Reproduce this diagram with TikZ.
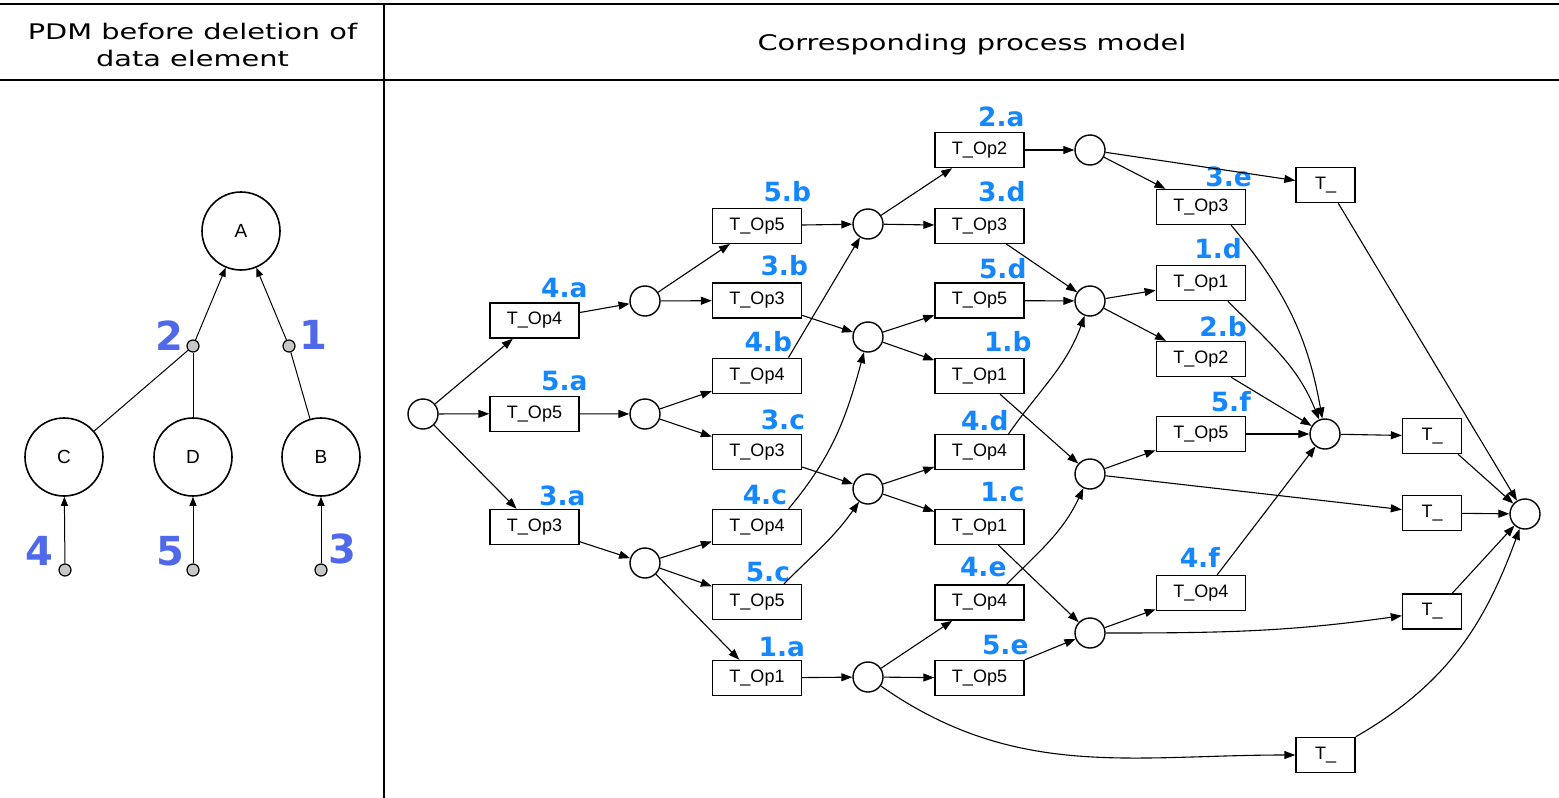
\documentclass[tikz,border=0pt]{standalone}
\usepackage{fontspec}
\setmainfont{Liberation Sans}
\newfontfamily\vfont{DejaVu Sans}
\usetikzlibrary{arrows.meta}
\definecolor{lblblue}{RGB}{20,135,255}
\definecolor{numblue}{RGB}{80,105,235}
\newcommand{\wide}[1]{\scalebox{1.34}[1]{#1}}

\begin{document}
\begin{tikzpicture}[
    x=1pt, y=1pt,
    place/.style={circle, draw, line width=1.4pt, minimum size=30pt, inner sep=0pt},
    trans/.style={rectangle, draw, line width=1.4pt, minimum width=89pt, minimum height=35pt,
        inner sep=0pt, font=\fontsize{18}{18}\selectfont},
    silent/.style={trans, minimum width=59pt},
    lbl/.style={anchor=south east, inner sep=0pt, text=lblblue,
        font=\vfont\bfseries\fontsize{26.5}{26.5}\selectfont},
    arc/.style={-{Triangle[length=11pt,width=8pt]}, line width=1.1pt},
    dnode/.style={circle, draw, line width=1.6pt, minimum size=78pt, inner sep=0pt,
        font=\fontsize{19}{19}\selectfont},
    dot/.style={circle, draw, fill=black!22, line width=1.2pt, minimum size=12pt, inner sep=0pt},
    num/.style={inner sep=0pt, text=numblue, font=\vfont\bfseries\fontsize{40}{40}\selectfont},
    link/.style={line width=1pt},
    dep/.style={link, -{Triangle[length=9pt,width=7pt]}}
]
\useasboundingbox (0,0) rectangle (1559,-798);

% table
\draw[line width=2.2pt] (0,-4) -- (1559,-4);
\draw[line width=2.2pt] (0,-80) -- (1559,-80);
\draw[line width=2pt] (384,-4) -- (384,-798);
\node[align=center, inner sep=0pt, font=\vfont\fontsize{21.5}{26.7}\selectfont] (hpdm) at (192.5,-45)
    {\wide{PDM before deletion of}\\\wide{data element}};
\node[anchor=base, inner sep=0pt, font=\vfont\fontsize{21.5}{26.7}\selectfont] (hmodel) at (972,-50)
    {\wide{Corresponding process model}};

% PDM
\node[dnode] (nA) at (241,-231) {A};
\node[dnode] (nC) at (64,-457) {C};
\node[dnode] (nD) at (193,-457) {D};
\node[dnode] (nB) at (321,-457) {B};
\node[dot] (o2) at (193,-346) {};
\node[dot] (o1) at (289,-346) {};
\node[dot] (o4) at (65,-570) {};
\node[dot] (o5) at (193,-570) {};
\node[dot] (o3) at (321,-570) {};

\draw[link] (nC) -- (o2);
\draw[link] (nD) -- (o2);
\draw[dep] (o2) -- (nA);
\draw[link] (nB) -- (o1);
\draw[dep] (o1) -- (nA);
\draw[dep] (o4) -- (nC);
\draw[dep] (o5) -- (nD);
\draw[dep] (o3) -- (nB);

\node[num, anchor=base east] at ([xshift=-3pt,yshift=-4pt]o2.west) {2};
\node[num, anchor=base west] at ([xshift=4pt,yshift=-3pt]o1.east) {1};
\node[num, anchor=base east] at ([xshift=-5pt,yshift=5pt]o4.west) {4};
\node[num, anchor=base east] at ([xshift=-2pt,yshift=5pt]o5.west) {5};
\node[num, anchor=base west] at ([xshift=1pt,yshift=7pt]o3.east) {3};

% process model
\node[place] (p0) at (423,-414) {};
\node[trans] (t4a) at (534.5,-320.5) {T\_Op4};
\node[trans] (t5a) at (534.5,-413.7) {T\_Op5};
\node[trans] (t3a) at (534.5,-527) {T\_Op3};
\node[place] (pa1) at (645,-301) {};
\node[place] (pa2) at (645,-414) {};
\node[place] (pa3) at (645,-563) {};
\node[trans] (t5b) at (757,-225.7) {T\_Op5};
\node[trans] (t3b) at (757,-300.5) {T\_Op3};
\node[trans] (t4b) at (757,-375.7) {T\_Op4};
\node[trans] (t3c) at (757,-452) {T\_Op3};
\node[trans] (t4c) at (757,-527) {T\_Op4};
\node[trans] (t5c) at (757,-602) {T\_Op5};
\node[trans] (t1a) at (757,-678) {T\_Op1};
\node[place] (pb1) at (868,-224) {};
\node[place] (pb2) at (868,-337) {};
\node[place] (pb3) at (868,-489) {};
\node[place] (pb4) at (868,-677) {};
\node[trans] (t2a) at (979.5,-150) {T\_Op2};
\node[trans] (t3d) at (979.5,-225.7) {T\_Op3};
\node[trans] (t5d) at (979.5,-300.5) {T\_Op5};
\node[trans] (t1b) at (979.5,-376) {T\_Op1};
\node[trans] (t4d) at (979.5,-452) {T\_Op4};
\node[trans] (t1c) at (979.5,-527) {T\_Op1};
\node[trans] (t4e) at (979.5,-602.5) {T\_Op4};
\node[trans] (t5e) at (979.5,-678) {T\_Op5};
\node[place] (pc1) at (1090,-150) {};
\node[place] (pc2) at (1090,-301) {};
\node[place] (pc3) at (1090,-474) {};
\node[place] (pc4) at (1090,-633) {};
\node[trans] (t3e) at (1200.8,-207) {T\_Op3};
\node[trans] (t1d) at (1200.8,-283) {T\_Op1};
\node[trans] (t2b) at (1200.8,-359) {T\_Op2};
\node[trans] (t5f) at (1200.8,-434) {T\_Op5};
\node[trans] (t4f) at (1200.8,-593) {T\_Op4};
\node[silent] (s1) at (1325.5,-185) {T\_};
\node[place] (pd) at (1325,-434) {};
\node[silent] (s5) at (1325.5,-755) {T\_};
\node[silent] (s2) at (1432,-436) {T\_};
\node[silent] (s3) at (1432,-513) {T\_};
\node[silent] (s4) at (1432,-611.5) {T\_};
\node[place] (pe) at (1525,-514) {};

% labels
\node[lbl] at ([xshift=8pt,yshift=4pt]t4a.north east) {4.a};
\node[lbl] at ([xshift=8pt,yshift=4pt]t5a.north east) {5.a};
\node[lbl] at ([xshift=6pt,yshift=3pt]t3a.north east) {3.a};
\node[lbl] at ([xshift=9pt,yshift=5pt]t5b.north east) {5.b};
\node[lbl] at ([xshift=6pt,yshift=6pt]t3b.north east) {3.b};
\node[lbl] at ([xshift=-10pt,yshift=5pt]t4b.north east) {4.b};
\node[lbl] at ([xshift=3pt,yshift=4pt]t3c.north east) {3.c};
\node[lbl] at ([xshift=-15pt,yshift=4pt]t4c.north east) {4.c};
\node[lbl] at ([xshift=-12pt,yshift=2pt]t5c.north east) {5.c};
\node[lbl] at ([xshift=3pt,yshift=3pt]t1a.north east) {1.a};
\node[lbl] at ([xshift=0pt,yshift=5pt]t2a.north east) {2.a};
\node[lbl] at ([xshift=1pt,yshift=5pt]t3d.north east) {3.d};
\node[lbl] at ([xshift=2pt,yshift=3pt]t5d.north east) {5.d};
\node[lbl] at ([xshift=7pt,yshift=6pt]t1b.north east) {1.b};
\node[lbl] at ([xshift=-16pt,yshift=3pt]t4d.north east) {4.d};
\node[lbl] at ([xshift=0pt,yshift=7pt]t1c.north east) {1.c};
\node[lbl] at ([xshift=-18pt,yshift=7pt]t4e.north east) {4.e};
\node[lbl] at ([xshift=4pt,yshift=5pt]t5e.north east) {5.e};
\node[lbl] at ([xshift=6pt,yshift=2pt]t3e.north east) {3.e};
\node[lbl] at ([xshift=-4pt,yshift=6pt]t1d.north east) {1.d};
\node[lbl] at ([xshift=1pt,yshift=4pt]t2b.north east) {2.b};
\node[lbl] at ([xshift=5pt,yshift=4pt]t5f.north east) {5.f};
\node[lbl] at ([xshift=-26pt,yshift=7pt]t4f.north east) {4.f};

% arcs
\draw[arc] (p0) -- (t4a);
\draw[arc] (p0) -- (t5a);
\draw[arc] (p0) -- (t3a);
\draw[arc] (t4a) -- (pa1);
\draw[arc] (t5a) -- (pa2);
\draw[arc] (t3a) -- (pa3);
\draw[arc] (pa1) -- (t5b);
\draw[arc] (pa1) -- (t3b);
\draw[arc] (pa2) -- (t4b);
\draw[arc] (pa2) -- (t3c);
\draw[arc] (pa3) -- (t4c);
\draw[arc] (pa3) -- (t5c);
\draw[arc] (pa3) -- (t1a);
\draw[arc] (t5b) -- (pb1);
\draw[arc] (t3b) -- (pb2);
\draw[arc] (t4b.30) -- (pb1);
\draw[arc] (t3c) -- (pb3);
\draw[arc] (t4c.30) to[out=50, in=-105] (pb2);
\draw[arc] (t5c.34) to[out=45, in=-125] (pb3);
\draw[arc] (t1a) -- (pb4);
\draw[arc] (pb1) -- (t2a);
\draw[arc] (pb1) -- (t3d);
\draw[arc] (pb2) -- (t5d);
\draw[arc] (pb2) -- (t1b);
\draw[arc] (pb3) -- (t4d);
\draw[arc] (pb3) -- (t1c);
\draw[arc] (pb4) -- (t4e);
\draw[arc] (pb4) -- (t5e);
\draw[arc] (pb4) to[out=-35, in=180] (s5);
\draw[arc] (t2a) -- (pc1);
\draw[arc] (t3d) -- (pc2);
\draw[arc] (t5d) -- (pc2);
\draw[arc] (t4d.32) to[out=55, in=-110] (pc2);
\draw[arc] (t1b) -- (pc3);
\draw[arc] (t4e.34) to[out=45, in=-115] (pc3);
\draw[arc] (t1c) -- (pc4);
\draw[arc] (t5e.north east) -- (pc4);
\draw[arc] (pc1) -- (t3e);
\draw[arc] (pc1) -- (s1);
\draw[arc] (pc2) -- (t1d);
\draw[arc] (pc2) -- (t2b);
\draw[arc] (pc3) -- (t5f);
\draw[arc] (pc3) -- (s3);
\draw[arc] (pc4) -- (t4f);
\draw[arc] (pc4) to[out=0, in=188] (s4);
\draw[arc] (t3e.-31) to[out=-50, in=100] (pd);
\draw[arc] (t1d.-34) to[out=-45, in=112] (pd);
\draw[arc] (t2b.-31) -- (pd);
\draw[arc] (t5f) -- (pd);
\draw[arc] (t4f.48) -- (pd);
\draw[arc] (pd) -- (s2);
\draw[arc] (s1.-55) -- (pe);
\draw[arc] (s2.-35) -- (pe);
\draw[arc] (s3) -- (pe);
\draw[arc] (s4.42) -- (pe);
\draw[arc] (s5.north east) to[out=30, in=-110] (pe);

\end{tikzpicture}
\end{document}
